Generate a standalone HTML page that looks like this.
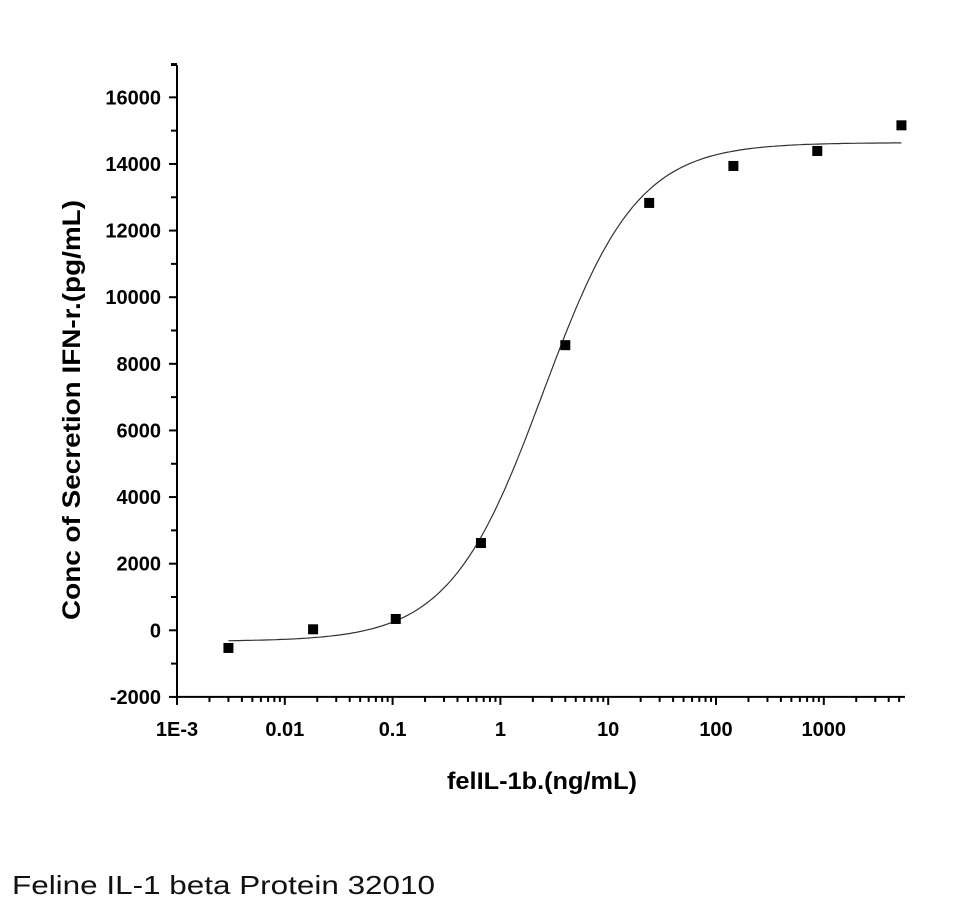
<!DOCTYPE html>
<html><head><meta charset="utf-8"><style>
body{margin:0;background:#fff}
svg text{font-family:"Liberation Sans",Arial,sans-serif}
</style></head><body>
<svg width="960" height="915">
<g id="axes"></g><g id="curve"></g><g id="pts"></g>
<text x="12" y="894" font-size="26" fill="#111" textLength="423" lengthAdjust="spacingAndGlyphs">Feline IL-1 beta Protein 32010</text>
</svg>
<script>
const xTicks=["1E-3","0.01","0.1","1","10","100","1000"];
const yTicks=[-2000,0,2000,4000,6000,8000,10000,12000,14000,16000];
const doses=[0.003,0.0183,0.107,0.66,4.0,24,145,870,5250];
const values=[-530,30,340,2620,8560,12830,13940,14390,15160];
const fitBottom=-330, fitTop=14640, fitEC50=2.5, fitHill=1.0;

const NS="http://www.w3.org/2000/svg";
const X0=177, DEC=107.8, XEND=905, YTOP=65;
const sx=v=>X0+(Math.log10(v)+3)*DEC;
const sy=v=>630.3-v*0.03331;
function mk(t,a,p){const e=document.createElementNS(NS,t);for(const k in a)e.setAttribute(k,a[k]);p.appendChild(e);return e;}
const ax=document.getElementById('axes');
const yl=mk('line',{x1:X0,y1:YTOP,x2:X0,y2:sy(-2000),stroke:'#000','stroke-width':2},ax);


const xl=mk('line',{x1:X0,y1:sy(-2000),x2:XEND,y2:sy(-2000),stroke:'#000','stroke-width':2},ax);


for(let v=-2000;v<=17000;v+=1000){const y=sy(v);if(y<YTOP-1)break;const maj=v%2000===0;
 mk('line',{x1:X0-(maj?8:6),y1:y,x2:X0,y2:y,stroke:'#000','stroke-width':2},ax);}
mk('line',{x1:X0-6,y1:YTOP,x2:X0,y2:YTOP,stroke:'#000','stroke-width':2},ax);
yTicks.forEach(v=>{const t=mk('text',{x:X0-16,y:sy(v)+7,'font-size':20,'font-weight':'bold','text-anchor':'end'},ax);t.textContent=v;
 
 });
const yb=sy(-2000);
for(let d=-3;d<=3;d++){for(let m=1;m<=9;m++){const x=X0+(d+3+Math.log10(m))*DEC;if(x>XEND)break;
 mk('line',{x1:x,y1:yb,x2:x,y2:yb+(m===1?8:5),stroke:'#000','stroke-width':2},ax);}}
xTicks.forEach((s,i)=>{const t=mk('text',{x:X0+i*DEC,y:yb+39,'font-size':20,'font-weight':'bold','text-anchor':'middle'},ax);t.textContent=s;
 
 });
const xt=mk('text',{x:542,y:789,'font-size':24,'font-weight':'bold','text-anchor':'middle',textLength:190,lengthAdjust:'spacingAndGlyphs'},ax);xt.textContent='felIL-1b.(ng/mL)';


const yt=mk('text',{x:0,y:0,'font-size':25,'font-weight':'bold','text-anchor':'middle',textLength:420,lengthAdjust:'spacingAndGlyphs',transform:'translate(80,410) rotate(-90)'},ax);yt.textContent='Conc of Secretion IFN-r.(pg/mL)';


let d='';const l0=Math.log10(doses[0]),l1=Math.log10(doses[doses.length-1]);
for(let i=0;i<=200;i++){const lx=l0+(l1-l0)*i/200,x=Math.pow(10,lx);
 const y=fitBottom+(fitTop-fitBottom)/(1+Math.pow(fitEC50/x,fitHill));d+=(i?'L':'M')+sx(x).toFixed(1)+' '+sy(y).toFixed(1);}
const c=mk('path',{d:d,fill:'none',stroke:'#333','stroke-width':1.2},document.getElementById('curve'));


doses.forEach((x,i)=>{const r=mk('rect',{x:sx(x)-5,y:sy(values[i])-5,width:10,height:10,fill:'#000'},document.getElementById('pts'));
 
 });
</script>
</body></html>
